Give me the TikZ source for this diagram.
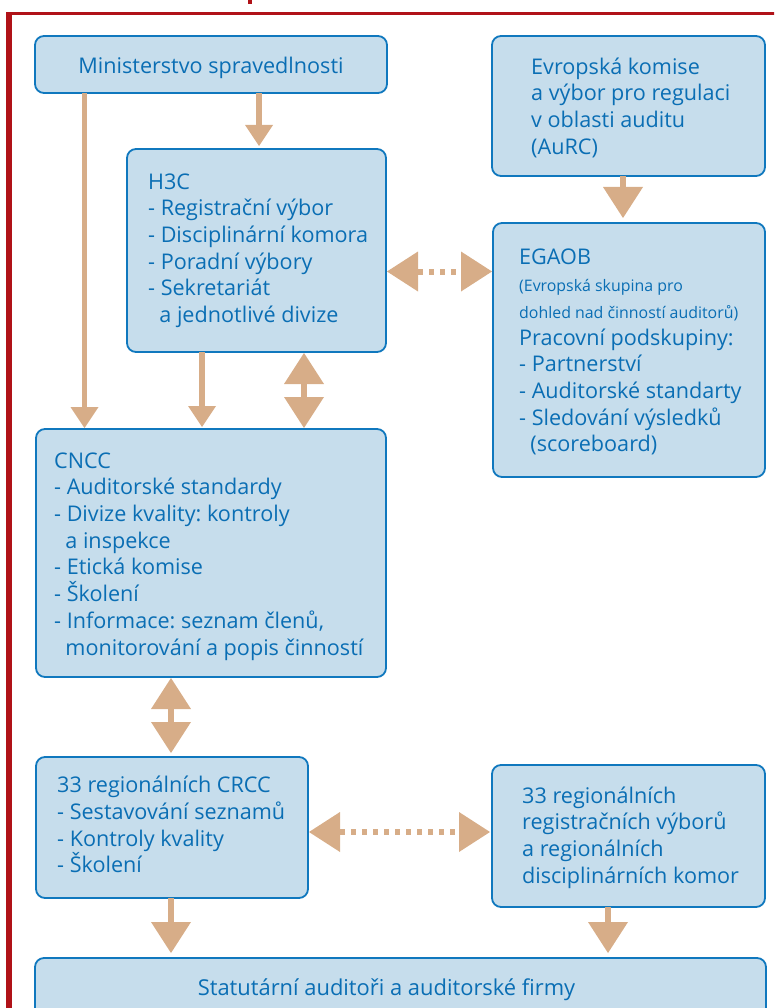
\documentclass[tikz,border=0pt]{standalone}
\usepackage{fontspec}
\setmainfont{Open Sans}
\usetikzlibrary{arrows.meta}
\definecolor{boxfill}{RGB}{198,221,236}
\definecolor{boxline}{RGB}{16,120,190}
\definecolor{txtblue}{RGB}{10,110,180}
\definecolor{tanc}{RGB}{215,173,136}
\definecolor{framered}{RGB}{176,18,24}
\newcommand{\smalltxt}{\fontsize{15.9}{26.7}\selectfont}
\frenchspacing
\begin{document}
\frenchspacing
\begin{tikzpicture}[x=1pt,y=-1pt,
 box/.style={draw=boxline, fill=boxfill, line width=1.8pt, rounded corners=9pt, outer sep=0pt, inner sep=0pt, anchor=north west},
 txt/.style={text=txtblue, align=left, inner sep=0pt, anchor=west, font=\fontsize{21.6}{26.7}\selectfont\frenchspacing},
 sarr/.style={draw=tanc, line width=5.5pt, -{Triangle[length=21pt,width=28pt,line width=0pt]}},
 barr/.style={draw=tanc, line width=6pt, -{Triangle[length=31pt,width=40pt,line width=0pt]}},
 darr/.style={draw=tanc, line width=6pt, {Triangle[length=31pt,width=40pt,line width=0pt]}-{Triangle[length=31pt,width=40pt,line width=0pt]}},
 dotarr/.style={darr, dash pattern=on 5pt off 6pt},
]
\useasboundingbox (0,0) rectangle (774,1008);
\clip (0,0) rectangle (774,1008);
% frame
\draw[framered, line width=5.5pt] (9,1012) -- (9,12);
\draw[framered, line width=3.5pt] (6.25,13.5) -- (778,13.5);
\fill[framered] (248,0) rectangle (252,4);
% boxes
\node[box, minimum width=352pt, minimum height=57pt] (min) at (35,36) {};
\node[box, minimum width=259pt, minimum height=203pt] (h3c) at (127,149) {};
\node[box, minimum width=273pt, minimum height=140pt] (ek) at (492,36) {};
\node[box, minimum width=272pt, minimum height=254pt] (egaob) at (493,223) {};
\node[box, minimum width=350pt, minimum height=248pt] (cncc) at (36,429) {};
\node[box, minimum width=272pt, minimum height=141pt] (crcc) at (36,757) {};
\node[box, minimum width=273pt, minimum height=142pt] (reg) at (492,765) {};
\node[box, minimum width=731pt, minimum height=80pt] (stat) at (35,958) {};
% texts
\node[txt, anchor=base] (mint) at (211,73.7) {Ministerstvo spravedlnosti};
\node[txt] (h3ct) at (148,250.7) {H3C\\- Registrační výbor\\- Disciplinární komora\\- Poradní výbory\\- Sekretariát\\\ \ a jednotlivé divize};
\node[txt] (ekt) at (531,107.6) {Evropská komise\\a výbor pro regulaci\\v oblasti auditu\\(AuRC)};
\node[txt] (egaobt) at (519,352.3) {EGAOB\\{\smalltxt(Evropská skupina pro}\\{\smalltxt dohled nad činností auditorů)}\\Pracovní podskupiny:\\- Partnerství\\- Auditorské standarty\\- Sledování výsledků\\\ \ (scoreboard)};
\node[txt] (cncct) at (54,556.4) {CNCC\\- Auditorské standardy\\- Divize kvality: kontroly\\\ \ a inspekce\\- Etická komise\\- Školení\\- Informace: seznam členů,\\\ \ monitorování a popis činností};
\node[txt] (crcct) at (57,824.5) {33 regionálních CRCC\\- Sestavování seznamů\\- Kontroly kvality\\- Školení};
\node[txt] (regt) at (522,837.6) {33 regionálních\\registračních výborů\\a regionálních\\disciplinárních komor};
\node[txt, anchor=base, font=\fontsize{21.9}{26.7}\selectfont] (statt) at (386.5,995) {Statutární auditoři a auditorské firmy};
% connectors
\draw[sarr] ([xshift=49.5pt]min.south west) -- ([xshift=48.5pt,yshift=1pt]cncc.north west);
\draw[sarr] ([xshift=224pt]min.south west) -- ([xshift=132pt,yshift=3pt]h3c.north west);
\draw[sarr] ([xshift=75pt]h3c.south west) -- ([xshift=166pt,yshift=2pt]cncc.north west);
\draw[darr] ([xshift=177pt,yshift=-1pt]h3c.south west) -- ([xshift=268pt,yshift=1pt]cncc.north west);
\draw[barr] ([xshift=131pt]ek.south west) -- ([xshift=130pt,yshift=5pt]egaob.north west);
\draw[dotarr] ([xshift=1pt,yshift=-122.5pt]h3c.north east) -- ([xshift=-1pt,yshift=-48.5pt]egaob.north west);
\draw[darr] ([xshift=135pt,yshift=-1pt]cncc.south west) -- ([xshift=135pt,yshift=4pt]crcc.north west);
\draw[dotarr] ([xshift=1pt,yshift=-75pt]crcc.north east) -- ([xshift=-2pt,yshift=-67pt]reg.north west);
\draw[barr] ([xshift=135pt]crcc.south west) -- ([xshift=136pt,yshift=5pt]stat.north west);
\draw[barr] ([xshift=116pt]reg.south west) -- ([xshift=573pt,yshift=5pt]stat.north west);
\end{tikzpicture}
\end{document}
